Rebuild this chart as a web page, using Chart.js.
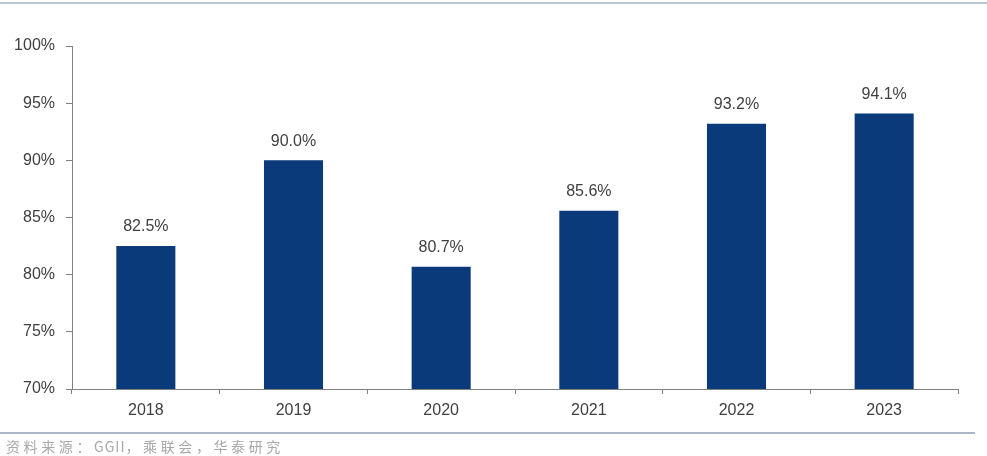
<!DOCTYPE html>
<html>
<head>
<meta charset="utf-8">
<script src="https://cdn.jsdelivr.net/npm/chart.js@4.4.1/dist/chart.umd.min.js"></script>
<style>
    html, body { margin: 0; padding: 0; background: #fff; }
    #wrap { position: relative; width: 987px; height: 456px; overflow: hidden; }
    #topline { position: absolute; left: 0; top: 2px; width: 987px; height: 2px; background: #bcc6d2; }
    #bottomline { position: absolute; left: 0; top: 432px; width: 975px; height: 2px; background: #a9b7c8; }
    #source { position: absolute; left: 6px; top: 436px; font-family: "Noto Sans CJK SC", sans-serif; font-size: 14px; letter-spacing: 3.6px; color: #a8a8a8; }
    #source .lat { letter-spacing: 1px; }
    canvas { position: absolute; left: 0; top: 0; }
</style>
</head>
<body>
<div id="wrap">
    <canvas id="chart" width="987" height="456"></canvas>
    <div id="topline"></div>
    <div id="bottomline"></div>
    <div id="source">资料来源：<span class="lat">GGII</span>，乘联会，华泰研究</div>
</div>
<script>
// 数据
const years = ['2018', '2019', '2020', '2021', '2022', '2023'];
const rates = [82.5, 90.0, 80.7, 85.6, 93.2, 94.1];
const yMin = 70;
const yMax = 100;
const yStep = 5;

// 柱顶数值标签
const barLabels = {
    id: 'barLabels',
    afterDatasetsDraw(chart) {
        const ctx = chart.ctx;
        const meta = chart.getDatasetMeta(0);
        ctx.save();
        ctx.font = '16px "Liberation Sans", Arial, sans-serif';
        ctx.fillStyle = '#404040';
        ctx.textAlign = 'center';
        ctx.textBaseline = 'middle';
        meta.data.forEach((bar, i) => {
            ctx.fillText(rates[i].toFixed(1) + '%', bar.x, bar.y - 19);
        });
        ctx.restore();
    }
};

new Chart(document.getElementById('chart'), {
    type: 'bar',
    data: {
        labels: years,
        datasets: [{
            data: rates,
            backgroundColor: '#0b3a7a',
            borderWidth: 0,
            categoryPercentage: 0.4,
            barPercentage: 1.0
        }]
    },
    options: {
        responsive: false,
        animation: false,
        layout: { padding: { top: 46, right: 29, left: 0, bottom: 0 } },
        plugins: {
            legend: { display: false },
            tooltip: { enabled: false }
        },
        scales: {
            x: {
                grid: {
                    display: true,
                    offset: true,
                    drawOnChartArea: false,
                    tickLength: 5,
                    color: '#808080'
                },
                border: { color: '#808080', width: 1 },
                ticks: {
                    color: '#404040',
                    padding: 7,
                    font: { family: '"Liberation Sans", Arial, sans-serif', size: 16 }
                },
                afterFit(scale) { scale.height = 67; }
            },
            y: {
                min: yMin,
                max: yMax,
                grid: {
                    display: true,
                    drawOnChartArea: false,
                    tickLength: 6,
                    color: '#808080'
                },
                border: { color: '#808080', width: 1 },
                ticks: {
                    stepSize: yStep,
                    color: '#404040',
                    padding: 11,
                    font: { family: '"Liberation Sans", Arial, sans-serif', size: 16 },
                    callback: v => v + '%'
                },
                afterFit(scale) { scale.width = 72; }
            }
        }
    },
    plugins: [barLabels]
});
</script>
</body>
</html>
